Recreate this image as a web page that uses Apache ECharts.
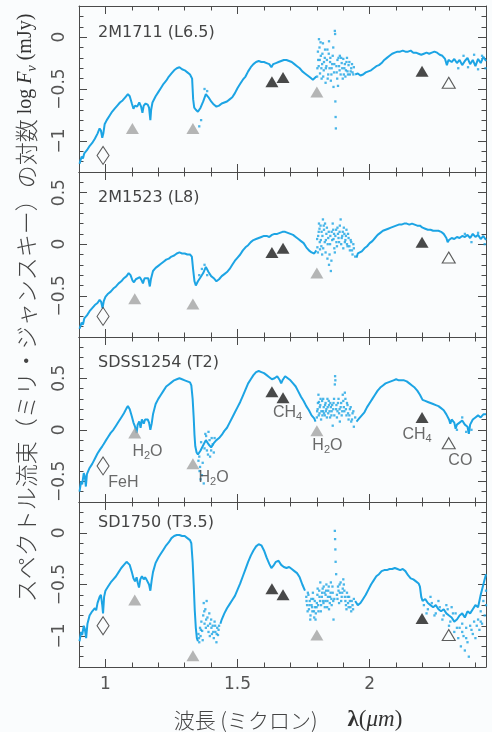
<!DOCTYPE html>
<html><head><meta charset="utf-8">
<script src="https://cdn.jsdelivr.net/npm/echarts@6/dist/echarts.min.js"></script>
<style>html,body{margin:0;padding:0;background:#fafcfd;} #c{width:492px;height:732px;}</style>
</head><body><div id="c"></div>
<script>
// ---------- data ----------
const panelNames = ['2M1711 (L6.5)', '2M1523 (L8)', 'SDSS1254 (T2)', 'SD1750 (T3.5)'];
const yMin = [-1.3, -0.9, -0.7, -1.3];
const yMax = [0.3, 0.7, 0.9, 0.3];
const yMajor = [[-1, -0.5, 0], [-0.5, 0, 0.5], [-0.5, 0, 0.5], [-1, -0.5, 0]];
const xMin = 0.9, xMax = 2.44;
const xMajor = [1, 1.5, 2];

// spectra: continuous parts (null = gap) and scattered noisy dots
const spec1 = [[0.902,-1.22],[0.91,-1.15],[0.915,-1.17],[0.92,-1.12],[0.93,-1.09],[0.935,-1.10],[0.94,-1.05],[0.95,-1.02],[0.955,-1.03],[0.96,-0.98],[0.97,-0.93],[0.978,-0.88],[0.983,-0.90],[0.988,-0.97],[0.992,-0.93],[0.997,-0.84],[1.005,-0.80],[1.015,-0.76],[1.025,-0.72],[1.035,-0.69],[1.045,-0.66],[1.055,-0.63],[1.065,-0.61],[1.075,-0.58],[1.085,-0.55],[1.092,-0.57],[1.10,-0.64],[1.106,-0.69],[1.112,-0.66],[1.12,-0.67],[1.128,-0.63],[1.135,-0.67],[1.14,-0.73],[1.145,-0.66],[1.152,-0.64],[1.16,-0.65],[1.165,-0.68],[1.17,-0.80],[1.173,-0.70],[1.178,-0.63],[1.19,-0.57],[1.20,-0.53],[1.21,-0.49],[1.22,-0.45],[1.23,-0.42],[1.24,-0.38],[1.25,-0.35],[1.26,-0.32],[1.27,-0.30],[1.28,-0.29],[1.29,-0.31],[1.30,-0.32],[1.31,-0.34],[1.32,-0.36],[1.328,-0.40],[1.332,-0.60],[1.336,-0.68],[1.342,-0.70],[1.35,-0.72],[1.36,-0.68],[1.37,-0.62],[1.38,-0.55],[1.39,-0.58],[1.40,-0.62],[1.41,-0.65],[1.42,-0.67],[1.43,-0.66],[1.44,-0.64],[1.45,-0.63],[1.46,-0.62],[1.47,-0.60],[1.48,-0.58],[1.49,-0.54],[1.50,-0.49],[1.51,-0.45],[1.52,-0.41],[1.53,-0.38],[1.54,-0.33],[1.55,-0.29],[1.56,-0.26],[1.57,-0.24],[1.58,-0.23],[1.59,-0.24],[1.60,-0.24],[1.61,-0.25],[1.62,-0.26],[1.628,-0.29],[1.635,-0.26],[1.645,-0.25],[1.655,-0.24],[1.665,-0.23],[1.675,-0.22],[1.685,-0.22],[1.695,-0.23],[1.705,-0.24],[1.715,-0.26],[1.725,-0.28],[1.735,-0.30],[1.745,-0.33],[1.755,-0.35],[1.765,-0.37],[1.775,-0.39],[1.785,-0.41],[1.792,-0.42],[1.798,-0.38],[1.80,null],[1.945,-0.36],[1.955,-0.35],[1.965,-0.37],[1.975,-0.36],[1.985,-0.34],[1.995,-0.33],[2.005,-0.32],[2.015,-0.30],[2.025,-0.28],[2.035,-0.27],[2.045,-0.25],[2.055,-0.22],[2.065,-0.20],[2.075,-0.18],[2.085,-0.16],[2.095,-0.15],[2.105,-0.14],[2.115,-0.14],[2.125,-0.13],[2.135,-0.14],[2.145,-0.14],[2.155,-0.13],[2.165,-0.15],[2.175,-0.15],[2.185,-0.16],[2.195,-0.17],[2.205,-0.16],[2.215,-0.15],[2.225,-0.16],[2.235,-0.15],[2.245,-0.14],[2.255,-0.15],[2.265,-0.17],[2.275,-0.18],[2.285,-0.21],[2.292,-0.27],[2.298,-0.22],[2.31,-0.24],[2.32,-0.21],[2.33,-0.25],[2.34,-0.22],[2.35,-0.27],[2.36,-0.23],[2.37,-0.20],[2.38,-0.26],[2.39,-0.22],[2.40,-0.28],[2.41,-0.21],[2.42,-0.25],[2.43,-0.19],[2.44,-0.23]];
const dots1 = [[1.355,-0.86],[1.362,-0.80],[1.375,-0.50],[1.385,-0.52],[1.802,-0.30],[1.805,-0.22],[1.808,-0.02],[1.81,-0.10],[1.812,-0.35],[1.815,-0.18],[1.818,-0.40],[1.82,-0.26],[1.823,-0.06],[1.826,-0.32],[1.83,-0.20],[1.833,-0.44],[1.836,-0.28],[1.84,-0.12],[1.843,-0.36],[1.846,-0.04],[1.85,-0.24],[1.853,-0.42],[1.856,-0.30],[1.86,-0.18],[1.863,-0.48],[1.866,-0.26],[1.868,0.06],[1.869,0.03],[1.87,-0.62],[1.871,-0.77],[1.872,-0.88],[1.875,-0.34],[1.878,-0.22],[1.88,-0.47],[1.884,-0.28],[1.887,-0.18],[1.89,-0.36],[1.894,-0.25],[1.898,-0.40],[1.90,-0.21],[1.904,-0.30],[1.908,-0.38],[1.912,-0.24],[1.916,-0.33],[1.92,-0.27],[1.925,-0.36],[1.93,-0.30],[1.935,-0.34],[1.94,-0.29],[1.801,-0.38],[1.804,-0.14],[1.807,-0.28],[1.811,-0.22],[1.814,-0.05],[1.817,-0.30],[1.821,-0.16],[1.824,-0.38],[1.827,-0.24],[1.831,-0.12],[1.834,-0.30],[1.838,-0.22],[1.841,-0.40],[1.845,-0.16],[1.848,-0.30],[1.851,-0.20],[1.855,-0.36],[1.858,-0.26],[1.862,-0.10],[1.865,-0.34],[1.874,-0.28],[1.877,-0.40],[1.882,-0.20],[1.886,-0.32],[1.892,-0.20],[1.896,-0.30],[1.902,-0.36],[1.906,-0.26],[1.91,-0.32],[1.914,-0.20],[1.918,-0.36],[1.923,-0.24],[1.928,-0.33],[1.933,-0.26],[1.938,-0.36],[2.335,-0.30],[2.355,-0.18],[2.372,-0.29],[2.395,-0.17],[2.41,-0.31],[2.425,-0.18],[2.438,-0.30]];

const spec2 = [[0.902,-0.82],[0.91,-0.76],[0.915,-0.78],[0.92,-0.72],[0.93,-0.69],[0.935,-0.70],[0.94,-0.65],[0.95,-0.62],[0.96,-0.59],[0.97,-0.57],[0.978,-0.54],[0.984,-0.56],[0.989,-0.62],[0.994,-0.55],[1.00,-0.51],[1.01,-0.48],[1.02,-0.46],[1.03,-0.43],[1.04,-0.41],[1.05,-0.38],[1.06,-0.36],[1.07,-0.33],[1.08,-0.31],[1.088,-0.28],[1.095,-0.30],[1.102,-0.35],[1.108,-0.37],[1.115,-0.34],[1.122,-0.35],[1.13,-0.32],[1.137,-0.35],[1.142,-0.38],[1.148,-0.33],[1.155,-0.32],[1.162,-0.33],[1.168,-0.41],[1.172,-0.34],[1.18,-0.26],[1.19,-0.23],[1.20,-0.21],[1.21,-0.19],[1.22,-0.17],[1.23,-0.15],[1.24,-0.14],[1.25,-0.12],[1.26,-0.11],[1.27,-0.09],[1.28,-0.08],[1.29,-0.09],[1.30,-0.09],[1.31,-0.10],[1.32,-0.10],[1.327,-0.12],[1.332,-0.25],[1.337,-0.36],[1.342,-0.40],[1.35,-0.36],[1.36,-0.32],[1.37,-0.28],[1.38,-0.22],[1.39,-0.27],[1.40,-0.31],[1.41,-0.33],[1.42,-0.36],[1.43,-0.34],[1.44,-0.31],[1.45,-0.29],[1.46,-0.27],[1.47,-0.24],[1.48,-0.20],[1.49,-0.16],[1.50,-0.13],[1.51,-0.10],[1.52,-0.06],[1.53,-0.03],[1.54,-0.01],[1.55,0.02],[1.56,0.04],[1.57,0.05],[1.58,0.06],[1.59,0.07],[1.60,0.08],[1.61,0.08],[1.62,0.07],[1.63,0.09],[1.64,0.10],[1.65,0.10],[1.66,0.11],[1.67,0.12],[1.68,0.12],[1.69,0.11],[1.70,0.10],[1.71,0.09],[1.72,0.07],[1.73,0.05],[1.74,0.03],[1.75,0.01],[1.76,-0.03],[1.77,-0.06],[1.78,-0.08],[1.79,-0.09],[1.798,-0.06],[1.80,null],[1.95,-0.13],[1.955,-0.09],[1.96,-0.10],[1.97,-0.07],[1.98,-0.04],[1.99,-0.02],[2.00,0.01],[2.01,0.03],[2.02,0.06],[2.03,0.09],[2.04,0.11],[2.05,0.13],[2.06,0.14],[2.07,0.15],[2.08,0.16],[2.09,0.17],[2.10,0.18],[2.11,0.19],[2.12,0.19],[2.13,0.20],[2.14,0.20],[2.15,0.19],[2.16,0.20],[2.17,0.19],[2.18,0.18],[2.19,0.18],[2.20,0.16],[2.21,0.15],[2.22,0.14],[2.23,0.14],[2.24,0.13],[2.25,0.13],[2.26,0.13],[2.27,0.12],[2.28,0.10],[2.29,0.06],[2.295,0.02],[2.30,0.04],[2.31,0.06],[2.32,0.05],[2.33,0.07],[2.34,0.06],[2.35,0.08],[2.36,0.07],[2.37,0.09],[2.38,0.06],[2.39,0.10],[2.40,0.07],[2.41,0.09],[2.42,0.05],[2.43,0.08],[2.44,0.04]];
const dots2 = [[1.355,-0.30],[1.365,-0.24],[1.375,-0.20],[1.385,-0.30],[1.802,-0.03],[1.805,0.08],[1.808,0.20],[1.81,0.15],[1.812,-0.05],[1.815,0.04],[1.818,0.12],[1.82,-0.10],[1.823,0.24],[1.826,0.18],[1.83,0.02],[1.833,-0.08],[1.836,0.10],[1.84,-0.14],[1.843,0.06],[1.846,-0.20],[1.85,0.00],[1.853,-0.26],[1.856,0.12],[1.86,0.20],[1.863,0.05],[1.866,-0.04],[1.87,0.08],[1.873,0.14],[1.876,-0.02],[1.88,0.10],[1.884,0.02],[1.887,0.18],[1.89,0.24],[1.894,0.06],[1.898,0.12],[1.90,-0.04],[1.904,0.10],[1.908,0.04],[1.912,0.14],[1.916,-0.02],[1.92,0.06],[1.925,-0.06],[1.93,0.02],[1.935,-0.10],[1.94,-0.04],[1.945,-0.12],[1.801,0.05],[1.804,-0.08],[1.807,0.12],[1.811,0.02],[1.814,0.18],[1.817,-0.02],[1.821,0.08],[1.824,-0.04],[1.827,0.14],[1.831,0.20],[1.834,0.04],[1.838,0.16],[1.841,0.00],[1.845,0.12],[1.848,-0.10],[1.851,0.08],[1.855,-0.16],[1.858,0.04],[1.862,0.14],[1.865,0.10],[1.868,-0.08],[1.874,0.02],[1.878,0.16],[1.882,0.06],[1.886,0.12],[1.892,0.00],[1.896,0.08],[1.902,0.16],[1.906,0.02],[1.91,0.08],[1.914,0.00],[1.918,0.10],[1.923,-0.02],[1.928,0.04],[1.933,-0.06],[1.938,0.00],[2.36,0.10],[2.385,0.02],[2.41,0.11],[2.435,0.00]];

const spec3 = [[0.902,-0.60],[0.908,-0.50],[0.912,-0.53],[0.918,-0.42],[0.922,-0.45],[0.926,-0.55],[0.93,-0.43],[0.94,-0.37],[0.95,-0.33],[0.96,-0.28],[0.97,-0.23],[0.98,-0.19],[0.988,-0.16],[0.993,-0.14],[1.00,-0.11],[1.01,-0.07],[1.02,-0.03],[1.03,0.00],[1.04,0.04],[1.05,0.08],[1.06,0.12],[1.07,0.16],[1.08,0.21],[1.085,0.23],[1.092,0.20],[1.10,0.13],[1.106,0.07],[1.112,0.03],[1.118,-0.03],[1.122,0.05],[1.128,0.08],[1.133,0.02],[1.138,0.10],[1.145,0.06],[1.15,0.10],[1.155,0.09],[1.16,0.10],[1.165,0.07],[1.17,0.00],[1.175,0.06],[1.18,0.15],[1.19,0.25],[1.20,0.30],[1.21,0.34],[1.22,0.38],[1.23,0.42],[1.24,0.44],[1.25,0.46],[1.26,0.48],[1.27,0.49],[1.28,0.50],[1.29,0.49],[1.30,0.48],[1.31,0.47],[1.32,0.46],[1.325,0.43],[1.33,0.30],[1.334,0.12],[1.337,-0.05],[1.34,-0.16],[1.345,-0.22],[1.35,-0.24],[1.36,-0.20],[1.37,-0.15],[1.38,-0.10],[1.39,-0.14],[1.40,-0.17],[1.41,-0.13],[1.42,-0.10],[1.43,-0.08],[1.44,-0.05],[1.45,-0.01],[1.46,0.02],[1.47,0.07],[1.48,0.12],[1.49,0.17],[1.50,0.22],[1.51,0.27],[1.52,0.33],[1.53,0.39],[1.54,0.45],[1.55,0.49],[1.56,0.53],[1.57,0.56],[1.58,0.57],[1.59,0.56],[1.60,0.55],[1.61,0.53],[1.62,0.51],[1.63,0.49],[1.64,0.50],[1.65,0.52],[1.66,0.48],[1.665,0.45],[1.67,0.48],[1.68,0.52],[1.69,0.50],[1.70,0.48],[1.71,0.45],[1.72,0.42],[1.73,0.37],[1.74,0.32],[1.75,0.28],[1.76,0.23],[1.77,0.19],[1.78,0.14],[1.79,0.11],[1.795,0.08],[1.80,null],[1.95,0.08],[1.96,0.11],[1.97,0.14],[1.98,0.17],[1.99,0.22],[2.00,0.26],[2.01,0.30],[2.02,0.34],[2.03,0.38],[2.04,0.41],[2.05,0.43],[2.06,0.45],[2.07,0.46],[2.08,0.47],[2.09,0.48],[2.10,0.49],[2.11,0.48],[2.12,0.48],[2.13,0.48],[2.14,0.47],[2.15,0.45],[2.16,0.43],[2.17,0.41],[2.18,0.38],[2.19,0.34],[2.20,0.29],[2.21,0.28],[2.22,0.27],[2.23,0.26],[2.24,0.25],[2.25,0.24],[2.26,0.23],[2.27,0.21],[2.28,0.19],[2.29,0.15],[2.30,0.10],[2.305,0.06],[2.31,0.10],[2.32,0.07],[2.325,0.01],[2.33,0.05],[2.34,0.07],[2.35,0.09],[2.36,0.05],[2.37,0.03],[2.375,-0.04],[2.38,0.05],[2.39,0.10],[2.40,0.12],[2.41,0.14],[2.42,0.12],[2.43,0.15],[2.44,0.15]];
const dots3 = [[1.352,-0.30],[1.358,-0.36],[1.365,-0.44],[1.372,-0.52],[1.378,-0.04],[1.384,-0.20],[1.39,-0.02],[1.396,-0.26],[1.402,-0.08],[1.41,-0.22],[1.355,-0.26],[1.362,-0.12],[1.368,-0.32],[1.375,-0.18],[1.381,-0.06],[1.388,-0.24],[1.394,-0.10],[1.40,-0.20],[1.406,-0.14],[1.413,-0.08],[1.36,-0.48],[1.356,-0.40],[1.80,0.12],[1.803,0.20],[1.806,0.34],[1.808,0.27],[1.81,0.16],[1.813,0.24],[1.816,0.10],[1.82,0.28],[1.823,0.18],[1.826,0.22],[1.83,0.14],[1.833,0.26],[1.836,0.20],[1.84,0.30],[1.843,0.16],[1.846,0.24],[1.85,0.12],[1.853,0.22],[1.856,0.18],[1.86,0.04],[1.863,0.26],[1.866,0.14],[1.868,0.44],[1.869,0.52],[1.87,0.48],[1.873,0.20],[1.876,0.12],[1.88,0.26],[1.884,0.16],[1.887,0.08],[1.89,0.22],[1.894,0.14],[1.898,0.34],[1.90,0.28],[1.904,0.18],[1.908,0.30],[1.912,0.14],[1.916,0.24],[1.92,0.10],[1.925,0.20],[1.93,0.08],[1.935,0.16],[1.94,0.03],[1.945,0.12],[1.801,0.18],[1.804,0.26],[1.807,0.14],[1.811,0.22],[1.814,0.30],[1.817,0.18],[1.821,0.14],[1.824,0.30],[1.827,0.16],[1.831,0.24],[1.834,0.18],[1.838,0.12],[1.841,0.22],[1.845,0.28],[1.848,0.18],[1.851,0.26],[1.855,0.14],[1.858,0.24],[1.862,0.20],[1.865,0.30],[1.874,0.24],[1.878,0.18],[1.882,0.30],[1.886,0.20],[1.892,0.26],[1.896,0.18],[1.902,0.22],[1.906,0.36],[1.91,0.20],[1.914,0.26],[1.918,0.16],[1.923,0.14],[1.928,0.22],[1.933,0.10],[1.938,0.18],[2.33,0.00],[2.35,0.12],[2.365,-0.02],[2.385,0.00]];

const spec4 = [[0.902,-1.05],[0.908,-0.96],[0.912,-0.99],[0.918,-0.90],[0.922,-0.93],[0.927,-1.02],[0.932,-0.88],[0.94,-0.80],[0.95,-0.76],[0.96,-0.73],[0.965,-0.75],[0.97,-0.68],[0.978,-0.62],[0.983,-0.60],[0.988,-0.70],[0.991,-0.78],[0.995,-0.62],[1.00,-0.56],[1.01,-0.52],[1.02,-0.48],[1.03,-0.45],[1.04,-0.42],[1.05,-0.38],[1.06,-0.34],[1.07,-0.31],[1.08,-0.28],[1.085,-0.27],[1.092,-0.31],[1.10,-0.38],[1.106,-0.44],[1.112,-0.47],[1.118,-0.43],[1.122,-0.48],[1.127,-0.53],[1.132,-0.45],[1.138,-0.42],[1.145,-0.45],[1.15,-0.43],[1.155,-0.45],[1.16,-0.46],[1.165,-0.50],[1.17,-0.56],[1.175,-0.46],[1.18,-0.38],[1.19,-0.29],[1.20,-0.24],[1.21,-0.20],[1.22,-0.16],[1.23,-0.12],[1.24,-0.09],[1.25,-0.05],[1.26,-0.03],[1.27,-0.02],[1.28,-0.02],[1.29,-0.03],[1.30,-0.03],[1.31,-0.05],[1.32,-0.07],[1.325,-0.10],[1.33,-0.28],[1.334,-0.50],[1.338,-0.75],[1.342,-0.92],[1.346,-1.02],[1.35,-1.05],[1.351,null],[1.435,-0.88],[1.44,-0.84],[1.45,-0.78],[1.46,-0.73],[1.47,-0.69],[1.48,-0.65],[1.49,-0.61],[1.50,-0.55],[1.51,-0.49],[1.52,-0.42],[1.53,-0.35],[1.54,-0.28],[1.55,-0.22],[1.56,-0.17],[1.57,-0.13],[1.58,-0.11],[1.585,-0.10],[1.59,-0.12],[1.60,-0.17],[1.61,-0.24],[1.62,-0.30],[1.628,-0.34],[1.635,-0.32],[1.645,-0.28],[1.655,-0.27],[1.665,-0.31],[1.675,-0.33],[1.685,-0.34],[1.695,-0.33],[1.705,-0.35],[1.715,-0.37],[1.725,-0.39],[1.735,-0.43],[1.745,-0.50],[1.755,-0.56],[1.756,null],[1.945,-0.66],[1.955,-0.70],[1.965,-0.68],[1.975,-0.64],[1.985,-0.60],[1.995,-0.55],[2.005,-0.50],[2.015,-0.46],[2.025,-0.42],[2.035,-0.40],[2.045,-0.37],[2.055,-0.36],[2.065,-0.36],[2.075,-0.35],[2.085,-0.35],[2.095,-0.34],[2.105,-0.35],[2.115,-0.36],[2.125,-0.35],[2.135,-0.37],[2.145,-0.41],[2.155,-0.44],[2.165,-0.45],[2.175,-0.47],[2.185,-0.49],[2.19,-0.52],[2.195,-0.62],[2.20,-0.66],[2.21,-0.64],[2.22,-0.68],[2.23,-0.70],[2.24,-0.72],[2.25,-0.70],[2.26,-0.74],[2.27,-0.76],[2.28,-0.74],[2.29,-0.78],[2.30,-0.80],[2.31,-0.82],[2.32,-0.86],[2.33,-0.84],[2.34,-0.80],[2.35,-0.78],[2.36,-0.82],[2.37,-0.76],[2.38,-0.78],[2.39,-0.74],[2.40,-0.70],[2.41,-0.72],[2.42,-0.60],[2.43,-0.50],[2.44,-0.40]];
const dots4 = [[1.352,-0.98],[1.355,-1.06],[1.358,-0.92],[1.36,-1.00],[1.363,-0.86],[1.366,-0.95],[1.37,-0.80],[1.372,-0.68],[1.375,-0.88],[1.378,-0.74],[1.38,-0.92],[1.383,-0.66],[1.386,-0.82],[1.39,-0.96],[1.393,-0.78],[1.396,-0.88],[1.40,-0.84],[1.403,-0.98],[1.406,-0.90],[1.41,-1.02],[1.413,-0.86],[1.416,-0.96],[1.42,-1.06],[1.423,-0.92],[1.426,-0.99],[1.43,-0.90],[1.354,-1.02],[1.361,-0.94],[1.368,-1.04],[1.374,-0.76],[1.381,-0.84],[1.388,-0.90],[1.395,-1.00],[1.401,-0.92],[1.408,-0.96],[1.415,-0.90],[1.421,-0.98],[1.428,-0.94],[1.76,-0.62],[1.763,-0.70],[1.766,-0.58],[1.77,-0.74],[1.773,-0.66],[1.776,-0.80],[1.78,-0.70],[1.783,-0.76],[1.786,-0.64],[1.79,-0.82],[1.793,-0.72],[1.796,-0.78],[1.80,-0.68],[1.803,-0.54],[1.806,-0.76],[1.81,-0.62],[1.813,-0.48],[1.816,-0.70],[1.82,-0.58],[1.823,-0.66],[1.826,-0.52],[1.83,-0.72],[1.833,-0.60],[1.836,-0.50],[1.84,-0.66],[1.843,-0.56],[1.846,-0.74],[1.85,-0.62],[1.853,-0.48],[1.856,-0.70],[1.86,-0.58],[1.863,-0.84],[1.866,-0.64],[1.868,0.02],[1.869,-0.06],[1.87,-0.16],[1.871,-0.28],[1.873,-0.40],[1.876,-0.60],[1.88,-0.52],[1.884,-0.68],[1.887,-0.58],[1.89,-0.48],[1.894,-0.62],[1.898,-0.54],[1.90,-0.45],[1.904,-0.56],[1.908,-0.66],[1.912,-0.74],[1.916,-0.62],[1.92,-0.72],[1.925,-0.66],[1.93,-0.76],[1.935,-0.70],[1.94,-0.64],[1.761,-0.66],[1.765,-0.76],[1.768,-0.60],[1.772,-0.70],[1.775,-0.84],[1.779,-0.64],[1.782,-0.72],[1.785,-0.58],[1.789,-0.76],[1.792,-0.66],[1.795,-0.84],[1.799,-0.72],[1.802,-0.60],[1.805,-0.70],[1.809,-0.56],[1.812,-0.66],[1.815,-0.76],[1.819,-0.62],[1.822,-0.54],[1.825,-0.68],[1.829,-0.58],[1.832,-0.66],[1.835,-0.56],[1.839,-0.72],[1.842,-0.62],[1.845,-0.52],[1.849,-0.68],[1.852,-0.58],[1.855,-0.64],[1.859,-0.52],[1.862,-0.66],[1.878,-0.64],[1.882,-0.56],[1.886,-0.50],[1.892,-0.66],[1.896,-0.58],[1.902,-0.50],[1.906,-0.62],[1.91,-0.70],[1.914,-0.58],[1.918,-0.68],[1.922,-0.62],[1.927,-0.72],[1.932,-0.66],[1.937,-0.74],[2.215,-0.78],[2.23,-0.62],[2.245,-0.80],[2.26,-0.66],[2.275,-0.84],[2.29,-0.70],[2.30,-0.90],[2.31,-0.72],[2.32,-0.96],[2.325,-0.78],[2.335,-1.02],[2.34,-0.92],[2.345,-1.10],[2.35,-0.88],[2.355,-1.00],[2.36,-1.14],[2.365,-0.92],[2.37,-1.06],[2.375,-1.20],[2.38,-0.90],[2.39,-0.98],[2.395,-0.86],[2.40,-1.02],[2.41,-0.84],[2.415,-0.94],[2.42,-0.76],[2.425,-0.88],[2.43,-0.66],[2.435,-0.80],[2.44,-0.56],[2.205,-0.70],[2.22,-0.74],[2.235,-0.68],[2.25,-0.78],[2.265,-0.72],[2.28,-0.80],[2.295,-0.74],[2.305,-0.86],[2.315,-0.78],[2.33,-0.92],[2.35,-0.96],[2.365,-1.02],[2.385,-0.94],[2.405,-0.90],[2.42,-0.86],[2.44,-0.70]];

// feature markers per panel
const feHDiamond = [[[0.991,-1.14]], [[0.991,-0.70]], [[0.991,-0.35]], [[0.991,-0.90]]];
const grayTri = [
  [[1.102,-0.88],[1.331,-0.88],[1.80,-0.53]],
  [[1.111,-0.53],[1.331,-0.58],[1.80,-0.28]],
  [[1.111,-0.03],[1.331,-0.33],[1.80,-0.01]],
  [[1.111,-0.65],[1.331,-1.19],[1.80,-0.99]]];
const blackTri = [
  [[1.63,-0.43],[1.672,-0.39],[2.198,-0.33]],
  [[1.63,-0.08],[1.672,-0.04],[2.198,0.02]],
  [[1.63,0.37],[1.672,0.31],[2.198,0.12]],
  [[1.63,-0.54],[1.672,-0.60],[2.198,-0.83]]];
const openTri = [[[2.299,-0.44]], [[2.299,-0.13]], [[2.299,-0.13]], [[2.299,-0.99]]];

// annotation labels in panel 3
const annoText = ['H2O', 'FeH', 'H2O', 'CH4', 'H2O', 'CH4', 'CO'];
const annoPos = [[1.159,-0.208],[1.068,-0.507],[1.409,-0.459],[1.689,0.167],[1.840,-0.151],[2.179,-0.044],[2.343,-0.295]];

const specLines = [spec1, spec2, spec3, spec4];
const specDots = [dots1, dots2, dots3, dots4];

// ---------- layout / style ----------
const frame = '#4a4a4a';
const blue = '#1ca4e4';
const bg = '#fafcfd';
const gridTops = [6, 172, 337, 502];
const gridHeights = [166, 165, 165, 165];
const gridLeft = 79, gridWidth = 407;

function tenths(a, b) {
  const r = [];
  for (let k = Math.round(a * 10); k <= Math.round(b * 10); k++) r.push(k / 10);
  return r;
}
function minorOf(a, b, majors) {
  return tenths(a, b).filter(v => !majors.some(m => Math.abs(m - v) < 1e-6));
}
const xMinor = minorOf(0.9, 2.4, xMajor);

const tickFont = {color: '#555', fontSize: 17, fontFamily: 'DejaVu Sans'};

const grids = [], xAxes = [], yAxes = [], series = [];
for (let g = 0; g < 4; g++) {
  grids.push({left: gridLeft, width: gridWidth, top: gridTops[g], height: gridHeights[g], containLabel: false, outerBoundsMode: 'none', show: false});
  const mkX = (pos, vals, len, line, lab) => ({
    type: 'value', gridIndex: g, min: xMin, max: xMax, position: pos,
    axisLine: {show: line, onZero: false, lineStyle: {color: frame, width: 1}},
    axisTick: {show: true, inside: true, length: len, customValues: vals, lineStyle: {color: frame, width: 1}},
    axisLabel: lab ? Object.assign({show: true, customValues: xMajor, margin: 9, formatter: v => String(v)}, tickFont) : {show: false},
    splitLine: {show: false}, minorTick: {show: false}
  });
  xAxes.push(mkX('bottom', xMajor, 8, true, g === 3));
  xAxes.push(mkX('bottom', xMinor, 4.5, false, false));
  xAxes.push(mkX('top', xMajor, 8, true, false));
  xAxes.push(mkX('top', xMinor, 4.5, false, false));
  const yMin_ = minorOf(yMin[g], yMax[g], yMajor[g]);
  const mkY = (pos, vals, len, line, lab) => ({
    type: 'value', gridIndex: g, min: yMin[g], max: yMax[g], position: pos,
    axisLine: {show: line, onZero: false, lineStyle: {color: frame, width: 1}},
    axisTick: {show: true, inside: true, length: len, customValues: vals, lineStyle: {color: frame, width: 1}},
    axisLabel: lab ? Object.assign({show: true, customValues: yMajor[g], rotate: 90, align: 'center', verticalAlign: 'bottom', margin: 11,
      formatter: v => String(v).replace('-', '\u2212')}, tickFont) : {show: false},
    splitLine: {show: false}, minorTick: {show: false}
  });
  yAxes.push(mkY('left', yMajor[g], 8, true, true));
  yAxes.push(mkY('left', yMin_, 4.5, false, false));
  yAxes.push(mkY('right', yMajor[g], 8, true, false));
  yAxes.push(mkY('right', yMin_, 4.5, false, false));

  const ax = {xAxisIndex: 4 * g, yAxisIndex: 4 * g};
  series.push(Object.assign({type: 'line', data: specLines[g], showSymbol: false, symbol: 'none', connectNulls: false,
    lineStyle: {color: blue, width: 2}, itemStyle: {color: blue}, z: 2, clip: true}, ax));
  series.push(Object.assign({type: 'scatter', data: specDots[g], symbol: 'rect', symbolSize: 2.3,
    itemStyle: {color: blue}, z: 2, clip: true}, ax));
  series.push(Object.assign({type: 'scatter', data: feHDiamond[g], symbol: 'diamond', symbolSize: [12, 18],
    itemStyle: {color: 'rgba(0,0,0,0)', borderColor: '#333', borderWidth: 1.1}, z: 5}, ax));
  series.push(Object.assign({type: 'scatter', data: grayTri[g], symbol: 'triangle', symbolSize: [13, 11],
    itemStyle: {color: '#a3a3a3'}, z: 5}, ax));
  series.push(Object.assign({type: 'scatter', data: blackTri[g], symbol: 'triangle', symbolSize: [13, 11],
    itemStyle: {color: '#1c1c1c'}, z: 5}, ax));
  series.push(Object.assign({type: 'scatter', data: openTri[g], symbol: 'triangle', symbolSize: [13, 11],
    itemStyle: {color: bg, borderColor: '#333', borderWidth: 1.1}, z: 5}, ax));
  if (g === 2) {
    series.push(Object.assign({type: 'scatter', symbolSize: 0, itemStyle: {color: 'rgba(0,0,0,0)'}, z: 6,
      data: annoPos.map((p, i) => ({value: p, name: annoText[i]})),
      label: {show: true, position: 'inside',
        formatter: p => {
          const t = p.name;
          const m = t.match(/^([A-Za-z]+?)(\d)(.*)$/);
          if (m) return '{t|' + m[1] + '}{s|' + m[2] + '}' + (m[3] ? '{t|' + m[3] + '}' : '');
          return '{t|' + t + '}';
        },
        rich: {
          t: {fontSize: 16, fontFamily: '"Liberation Sans Narrow", "Liberation Sans", sans-serif', color: '#444', lineHeight: 20},
          s: {fontSize: 11, fontFamily: '"Liberation Sans Narrow", "Liberation Sans", sans-serif', color: '#444', lineHeight: 10, verticalAlign: 'bottom'}
        }}}, ax));
  }
}

const graphics = [];
for (let g = 0; g < 4; g++) {
  graphics.push({type: 'text', x: 98, y: [33, 198, 363, 523][g], z: 10,
    style: {text: panelNames[g], font: '16px "DejaVu Sans"', fill: '#444', align: 'left', verticalAlign: 'middle'}});
}
graphics.push({type: 'text', x: 26, y: 308, rotation: Math.PI / 2, z: 10,
  style: {
    text: '{jp|スペクトル流束（ミリ・ジャンスキー）の対数} {rm|log} {it|F}{sub|ν} {rm|(mJy)}',
    font: '20px "Liberation Serif"', fill: '#333', align: 'center', verticalAlign: 'middle',
    rich: {
      jp: {fontFamily: '"Noto Sans CJK JP"', fontWeight: 300, fontSize: 23, fill: '#444', lineHeight: 26},
      rm: {fontFamily: '"Liberation Serif", serif', fontSize: 20, fill: '#333', lineHeight: 26},
      it: {fontFamily: '"Liberation Serif", serif', fontStyle: 'italic', fontSize: 20, fill: '#333', lineHeight: 26},
      sub: {fontFamily: '"Liberation Serif", serif', fontStyle: 'italic', fontSize: 14, fill: '#333', lineHeight: 14, verticalAlign: 'bottom'}
    }
  }});
graphics.push({type: 'text', x: 288, y: 720, z: 10,
  style: {
    text: '{jp|波長 (ミクロン)}      {b|λ}{rm|(}{it|μm}{rm|)}',
    font: '20px "Liberation Serif"', fill: '#333', align: 'center', verticalAlign: 'middle',
    rich: {
      jp: {fontFamily: '"Noto Sans CJK JP"', fontWeight: 300, fontSize: 21, fill: '#444', lineHeight: 26},
      b: {fontFamily: '"Liberation Serif", serif', fontWeight: 'bold', fontSize: 23, fill: '#333', lineHeight: 26},
      rm: {fontFamily: '"Liberation Serif", serif', fontSize: 23, fill: '#333', lineHeight: 26},
      it: {fontFamily: '"Liberation Serif", serif', fontStyle: 'italic', fontSize: 23, fill: '#333', lineHeight: 26}
    }
  }});

const chart = echarts.init(document.getElementById('c'), null, {renderer: 'canvas'});
chart.setOption({
  backgroundColor: bg,
  animation: false,
  grid: grids,
  xAxis: xAxes,
  yAxis: yAxes,
  series: series,
  graphic: graphics
});
</script></body></html>
